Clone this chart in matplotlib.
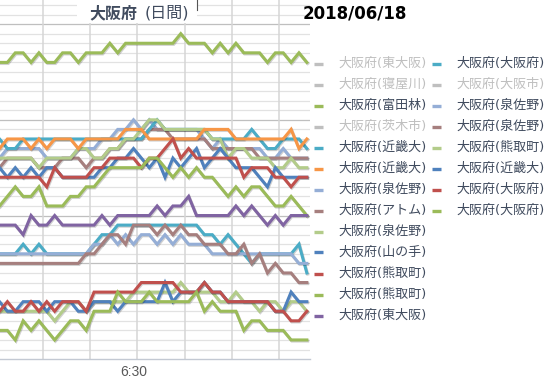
import matplotlib
matplotlib.use("Agg")
import matplotlib.pyplot as plt
import matplotlib.patheffects as pe
from matplotlib.lines import Line2D

# ranks per time slot (1 slot = one category on the x axis)
tick_positions = [17]
tick_labels = ["6:30"]

tondabayashi_green = [6, 6, 5, 5, 6, 5, 6, 6, 5, 5, 6, 5, 5, 5, 4, 5, 4, 4, 4, 4,
                      4, 4, 4, 3, 4, 4, 4, 5, 4, 5, 4, 5, 5, 5, 6, 5, 5, 6, 5, 6]
kindai_orange = [15, 14, 14, 14, 15, 14, 15, 14, 14, 14, 15, 14, 14, 14, 14, 14, 13, 13, 13, 14,
                 14, 14, 14, 14, 14, 14, 13, 13, 13, 13, 14, 14, 14, 14, 14, 14, 14, 13, 15, 14]
kindai_teal = [14, 15, 15, 14, 14, 14, 14, 14, 14, 14, 14, 14, 14, 14, 14, 14, 14, 14, 14, 13,
               12, 13, 13, 13, 13, 13, 13, 14, 14, 14, 14, 14, 13, 14, 15, 15, 14, 14, 14, 15]
izumisano_lightblue = [16, 15, 15, 15, 15, 15, 16, 16, 16, 16, 15, 15, 15, 14, 14, 13, 13, 12, 13, 12,
                       13, 13, 13, 13, 13, 13, 14, 15, 14, 15, 15, 15, 15, 15, 16, 16, 15, 16, 16, 16]
izumisano_mauve = [17, 16, 16, 16, 16, 17, 17, 17, 16, 16, 16, 17, 16, 16, 15, 15, 14, 14, 14, 13,
                   13, 13, 14, 14, 14, 14, 14, 15, 15, 15, 15, 15, 15, 16, 16, 16, 16, 16, 16, 16]
kumatori_lightgreen = [16, 16, 16, 16, 16, 17, 16, 16, 16, 16, 15, 15, 16, 16, 15, 15, 14, 14, 13, 12,
                       12, 13, 13, 13, 13, 13, 13, 14, 14, 16, 15, 15, 16, 16, 16, 17, 17, 16, 17, 17]
kindai_blue = [17, 18, 17, 18, 17, 18, 17, 17, 18, 18, 18, 18, 18, 17, 17, 16, 16, 15, 16, 17,
               16, 18, 16, 17, 16, 15, 17, 16, 15, 16, 17, 17, 17, 18, 19, 17, 18, 18, 18, 18]
osaka_red = [18, 18, 18, 18, 18, 18, 19, 17, 18, 18, 18, 18, 17, 17, 16, 16, 16, 16, 17, 16,
             16, 15, 14, 16, 15, 16, 16, 16, 16, 16, 16, 18, 17, 17, 17, 18, 18, 19, 18, 18]
osaka_green = [21, 20, 19, 20, 20, 19, 21, 21, 21, 20, 20, 19, 19, 18, 17, 17, 17, 17, 17, 16,
               16, 17, 18, 17, 18, 17, 18, 18, 19, 20, 19, 20, 19, 19, 20, 21, 21, 20, 21, 22]
higashiosaka_purple = [23, 23, 23, 24, 22, 23, 23, 22, 23, 23, 23, 23, 23, 22, 23, 22, 22, 22, 22, 22,
                       21, 22, 21, 21, 20, 22, 22, 22, 22, 22, 21, 22, 21, 22, 23, 22, 23, 22, 22, 22]
osaka_teal = [26, 26, 26, 25, 26, 25, 26, 26, 26, 26, 26, 26, 25, 24, 24, 23, 23, 23, 23, 23,
              23, 23, 23, 23, 23, 23, 24, 24, 25, 24, 25, 26, 27, 26, 26, 26, 26, 26, 25, 28]
izumisano_lightblue2 = [26, 26, 26, 26, 26, 26, 26, 26, 26, 26, 26, 26, 25, 25, 24, 25, 24, 25, 24, 24,
                        25, 24, 25, 24, 25, 25, 25, 26, 26, 26, 26, 26, 26, 26, 26, 26, 26, 26, 27, 27]
atom_mauve = [27, 27, 27, 27, 27, 27, 27, 27, 27, 27, 27, 26, 26, 25, 24, 24, 25, 23, 23, 23,
              24, 23, 24, 23, 24, 24, 25, 25, 25, 26, 26, 25, 27, 26, 28, 27, 28, 28, 29, 29]
yamanote_blue = [31, 32, 32, 31, 31, 31, 32, 31, 31, 31, 32, 32, 31, 31, 31, 32, 31, 31, 31, 31,
                 31, 29, 31, 30, 30, 30, 29, 30, 30, 31, 31, 31, 31, 31, 31, 32, 32, 30, 31, 31]
kumatori_red = [32, 31, 32, 32, 31, 32, 31, 32, 31, 31, 31, 32, 30, 30, 30, 30, 30, 30, 29, 29,
                29, 29, 29, 30, 30, 30, 29, 30, 30, 31, 31, 31, 31, 31, 31, 32, 32, 33, 33, 32]
izumisano_lightgreen = [32, 32, 32, 32, 32, 32, 32, 33, 32, 31, 31, 32, 31, 31, 31, 31, 31, 30, 30, 30,
                        30, 30, 30, 29, 30, 30, 30, 30, 31, 31, 30, 31, 31, 32, 31, 31, 32, 31, 31, 32]
kumatori_green = [34, 34, 35, 33, 34, 33, 34, 35, 34, 33, 33, 34, 32, 32, 32, 30, 31, 31, 31, 30,
                  31, 31, 31, 31, 31, 30, 32, 31, 32, 32, 32, 34, 33, 33, 34, 34, 34, 35, 35, 35]

GRAY = "#BFBFBF"
TEAL = "#4BACC6"
GREEN = "#9BBB59"
ORANGE = "#F79646"
BLUE = "#4F81BD"
RED = "#C0504D"
PURPLE = "#8064A2"
LIGHTBLUE = "#95AED6"
MAUVE = "#A67F7E"
LIGHTGREEN = "#B3CC8A"

# legend entries, row by row: (label, colour, data or None when hidden)
legend_col1 = [
    ("大阪府(東大阪)", GRAY, None),
    ("大阪府(寝屋川)", GRAY, None),
    ("大阪府(富田林)", GREEN, tondabayashi_green),
    ("大阪府(茨木市)", GRAY, None),
    ("大阪府(近畿大)", TEAL, kindai_teal),
    ("大阪府(近畿大)", ORANGE, kindai_orange),
    ("大阪府(泉佐野)", LIGHTBLUE, izumisano_lightblue2),
    ("大阪府(アトム)", MAUVE, atom_mauve),
    ("大阪府(泉佐野)", LIGHTGREEN, izumisano_lightgreen),
    ("大阪府(山の手)", BLUE, yamanote_blue),
    ("大阪府(熊取町)", RED, kumatori_red),
    ("大阪府(熊取町)", GREEN, kumatori_green),
    ("大阪府(東大阪)", PURPLE, higashiosaka_purple),
]
legend_col2 = [
    ("大阪府(大阪府)", TEAL, osaka_teal),
    ("大阪府(大阪市)", GRAY, None),
    ("大阪府(泉佐野)", LIGHTBLUE, izumisano_lightblue),
    ("大阪府(泉佐野)", MAUVE, izumisano_mauve),
    ("大阪府(熊取町)", LIGHTGREEN, kumatori_lightgreen),
    ("大阪府(近畿大)", BLUE, kindai_blue),
    ("大阪府(大阪府)", RED, osaka_red),
    ("大阪府(大阪府)", GREEN, osaka_green),
]

W, H = 551, 382
fig = plt.figure(figsize=(W / 100, H / 100), dpi=100)
fig.patch.set_facecolor("white")


def px(x, y):
    """Pixel position (from top left) to figure fraction."""
    return x / W, 1 - y / H


# plot area: 0..310 px wide, 0..359 px tall
ax = fig.add_axes([0, 23 / H, 310 / W, 359 / H])
ax.set_xlim(0.063, 39.4)
ax.set_ylim(36.99, -0.52)
for s in ("top", "right", "left"):
    ax.spines[s].set_visible(False)
ax.spines["bottom"].set_color("#C3C9D3")
ax.spines["bottom"].set_linewidth(1.0)

dark_rows = {2, 12, 22, 27}
for k in range(0, 37):
    ax.axhline(k, color="#BFBFBF" if k in dark_rows else "#E2E2E2", lw=0.9, zorder=0)
for k in range(6):
    ax.axvline(5.5 + 6 * k, color="#D6D6D6", lw=1.1, zorder=0)

ax.set_yticks([])
ax.set_xticks(tick_positions)
ax.set_xticklabels(tick_labels, fontsize=10, color="#595959", family="Liberation Sans")
ax.tick_params(axis="x", length=0, pad=4)

shadow = [pe.SimpleLineShadow(offset=(0.6, -0.8), shadow_color="black", alpha=0.18), pe.Normal()]
rows = max(len(legend_col1), len(legend_col2))
order = []
for r in range(rows):
    for col in (legend_col1, legend_col2):
        if r < len(col):
            order.append(col[r])
for label, color, ranks in order:
    if ranks is None:
        continue
    ax.plot(range(len(ranks)), ranks, color=color, lw=2.2, solid_joinstyle="miter",
            path_effects=shadow, clip_on=True)

# title box and date
fig.patches.append(plt.Rectangle(px(77, 23), 120 / W, 23 / H, transform=fig.transFigure,
                                 facecolor="white", edgecolor="none", zorder=5))
fig.text(*px(89, 13), "大阪府", family=["Noto Sans CJK JP"], weight="bold",
         fontsize=11.5, color="#404B5E", va="center", zorder=6)
fig.text(*px(145, 13), "(日間)", family=["DejaVu Sans", "Noto Sans CJK JP"],
         fontsize=11.5, color="#404B5E", va="center", zorder=6)
fig.add_artist(Line2D([197 / W, 197 / W], [1, 1 - 10 / H], color="#555555", lw=0.8,
                      transform=fig.transFigure, zorder=6))
fig.text(*px(303, 14), "2018/06/18", family="DejaVu Sans", weight="bold",
         fontsize=12, color="black", va="center")

# legend, drawn row by row like the spreadsheet legend
for c, (entries, x0) in enumerate(((legend_col1, 314), (legend_col2, 432))):
    for r, (label, color, ranks) in enumerate(entries):
        y = 63.5 + 21 * r
        (x1, y1), (x2, _) = px(x0, y), px(x0 + 9, y)
        fig.add_artist(Line2D([x1, x2], [y1, y1], color=color, lw=2.4,
                              transform=fig.transFigure, solid_capstyle="butt"))
        fig.text(*px(x0 + 24, y), label, family=["DejaVu Sans", "Noto Sans CJK JP"],
                 fontsize=9.4, va="center",
                 color=GRAY if ranks is None else "#404B5E")

fig.savefig("out.png", dpi=100)
